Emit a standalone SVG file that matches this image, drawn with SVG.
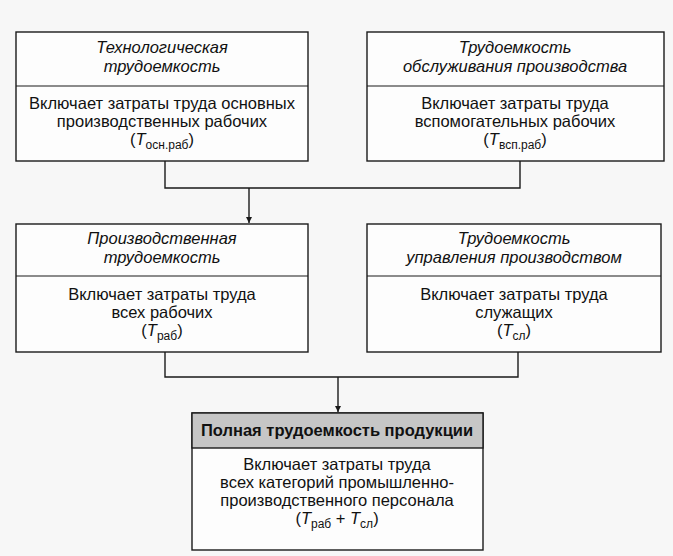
<svg xmlns="http://www.w3.org/2000/svg" width="673" height="556" viewBox="0 0 673 556">
<defs>
<style>
.box{fill:#fdfdfd;stroke:#1a1a1a;stroke-width:1.4}
.hdr{fill:#c6c6c6;stroke:#1a1a1a;stroke-width:1.4}
.div{stroke:#1a1a1a;stroke-width:1.2}
.t{font-family:"Liberation Sans",Arial,sans-serif;font-size:16.5px;fill:#111;text-anchor:middle}
.i{font-style:italic}
.b{font-weight:bold}
.sub{font-size:12px;font-style:normal}
.conn{fill:none;stroke:#1a1a1a;stroke-width:1.4}
</style>
<marker id="arr" viewBox="0 0 10 10" refX="10" refY="5" markerWidth="10" markerHeight="6" markerUnits="userSpaceOnUse" orient="auto">
<path d="M0,0 L10,5 L0,10 z" fill="#1a1a1a"/>
</marker>
</defs>
<rect width="673" height="556" fill="#f7f7f7"/>

<g id="connectors">
<path class="conn" d="M165,161 V188 H520 V161"/>
<path class="conn" d="M249,188 V223" marker-end="url(#arr)"/>
<path class="conn" d="M165,352 V377 H518 V352"/>
<path class="conn" d="M338,377 V412" marker-end="url(#arr)"/>
</g>

<g id="node-tech">
<rect class="box" x="16" y="32" width="292" height="129"/>
<line class="div" x1="16" y1="86" x2="308" y2="86"/>
<text class="t i" x="162" y="53">Технологическая</text>
<text class="t i" x="162" y="72">трудоемкость</text>
<text class="t" x="162" y="109">Включает затраты труда основных</text>
<text class="t" x="162" y="127">производственных рабочих</text>
<text class="t" x="162" y="145">(<tspan class="i">T</tspan><tspan class="sub" dy="4">осн.раб</tspan><tspan dy="-4">)</tspan></text>
</g>

<g id="node-service">
<rect class="box" x="367" y="32" width="297" height="129"/>
<line class="div" x1="367" y1="86" x2="664" y2="86"/>
<text class="t i" x="515" y="53">Трудоемкость</text>
<text class="t i" x="515" y="72">обслуживания производства</text>
<text class="t" x="515" y="109">Включает затраты труда</text>
<text class="t" x="515" y="127">вспомогательных рабочих</text>
<text class="t" x="515" y="145">(<tspan class="i">T</tspan><tspan class="sub" dy="4">всп.раб</tspan><tspan dy="-4">)</tspan></text>
</g>

<g id="node-prod">
<rect class="box" x="16" y="224" width="292" height="128"/>
<line class="div" x1="16" y1="276" x2="308" y2="276"/>
<text class="t i" x="162" y="244">Производственная</text>
<text class="t i" x="162" y="263">трудоемкость</text>
<text class="t" x="162" y="300">Включает затраты труда</text>
<text class="t" x="162" y="318">всех рабочих</text>
<text class="t" x="162" y="336">(<tspan class="i">T</tspan><tspan class="sub" dy="4">раб</tspan><tspan dy="-4">)</tspan></text>
</g>

<g id="node-mgmt">
<rect class="box" x="367" y="224" width="294" height="128"/>
<line class="div" x1="367" y1="276" x2="661" y2="276"/>
<text class="t i" x="514" y="244">Трудоемкость</text>
<text class="t i" x="514" y="263">управления производством</text>
<text class="t" x="514" y="300">Включает затраты труда</text>
<text class="t" x="514" y="318">служащих</text>
<text class="t" x="514" y="336">(<tspan class="i">T</tspan><tspan class="sub" dy="4">сл</tspan><tspan dy="-4">)</tspan></text>
</g>

<g id="node-total">
<rect class="box" x="192" y="413" width="291" height="137"/>
<rect class="hdr" x="192" y="413" width="291" height="35"/>
<text class="t b" x="337" y="436">Полная трудоемкость продукции</text>
<text class="t" x="337" y="470">Включает затраты труда</text>
<text class="t" x="337" y="488">всех категорий промышленно-</text>
<text class="t" x="337" y="506">производственного персонала</text>
<text class="t" x="337" y="524">(<tspan class="i">T</tspan><tspan class="sub" dy="4">раб</tspan><tspan dy="-4"> + </tspan><tspan class="i">T</tspan><tspan class="sub" dy="4">сл</tspan><tspan dy="-4">)</tspan></text>
</g>
</svg>
